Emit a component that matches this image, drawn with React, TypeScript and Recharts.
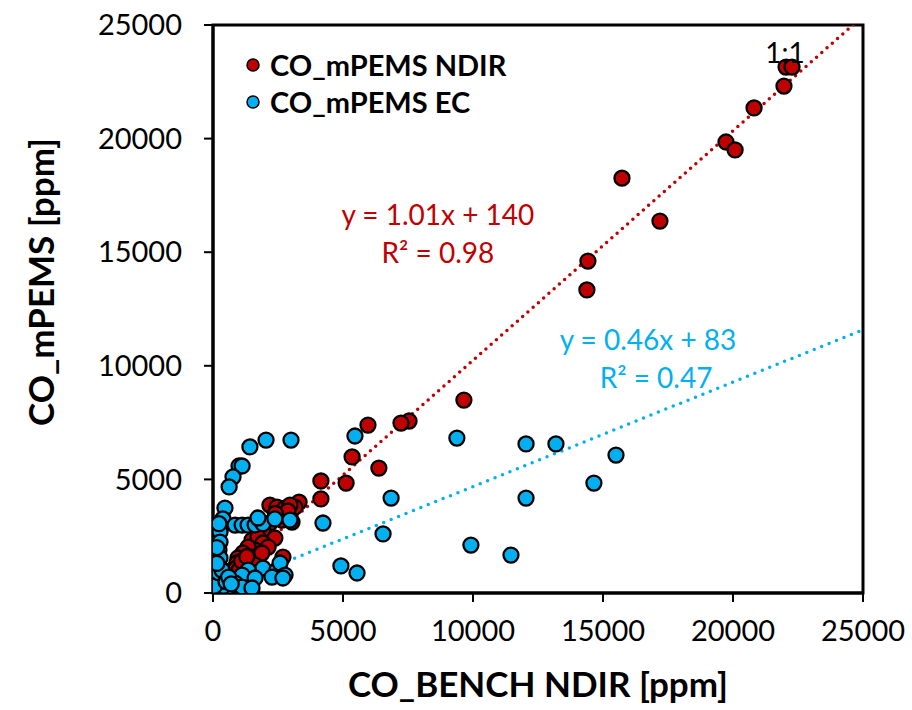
import {
	ScatterChart,
	Scatter,
	XAxis,
	YAxis,
	ReferenceLine,
	ReferenceArea,
	ReferenceDot,
	Legend
} from 'recharts'

// CO_mPEMS NDIR vs bench (ppm)
const ndirPoints = [
	{ x: 22040, y: 23150 }, { x: 22270, y: 23150 }, { x: 21960, y: 22310 }, { x: 20810, y: 21350 },
	{ x: 19730, y: 19850 }, { x: 20080, y: 19500 }, { x: 15730, y: 18260 }, { x: 17190, y: 16370 },
	{ x: 14420, y: 14610 }, { x: 14380, y: 13340 }, { x: 9650, y: 8490 }, { x: 7540, y: 7570 },
	{ x: 7230, y: 7480 }, { x: 5960, y: 7390 }, { x: 5350, y: 5990 }, { x: 6380, y: 5500 },
	{ x: 4150, y: 4930 }, { x: 5120, y: 4840 }, { x: 4150, y: 4140 }, { x: 3310, y: 4000 },
	{ x: 2190, y: 3870 }, { x: 2460, y: 3780 }, { x: 2770, y: 3740 }, { x: 3150, y: 3780 },
	{ x: 2960, y: 3870 }, { x: 3040, y: 3120 }, { x: 2650, y: 3210 }, { x: 2880, y: 3610 },
	{ x: 2190, y: 3080 }, { x: 40, y: 2900 }, { x: 1920, y: 2770 }, { x: 2380, y: 2420 },
	{ x: 1500, y: 2330 }, { x: 1730, y: 2460 }, { x: 1920, y: 2200 }, { x: 2120, y: 2020 },
	{ x: 1620, y: 1890 }, { x: 1350, y: 2020 }, { x: 1150, y: 1760 }, { x: 960, y: 1540 },
	{ x: 1500, y: 1580 }, { x: 1880, y: 1760 }, { x: 1230, y: 1230 }, { x: 920, y: 1320 },
	{ x: 1620, y: 1230 }, { x: 2690, y: 1580 }, { x: 730, y: 1010 }, { x: 460, y: 700 },
	{ x: 270, y: 480 }, { x: 120, y: 260 }, { x: 80, y: 130 }, { x: 200, y: 200 },
	{ x: 300, y: 350 }, { x: 400, y: 500 }, { x: 550, y: 600 }, { x: 650, y: 850 },
	{ x: 800, y: 900 }, { x: 500, y: 300 }, { x: 900, y: 1100 }, { x: 1000, y: 1000 },
	{ x: 1100, y: 1400 }, { x: 1300, y: 1600 }, { x: 2400, y: 3500 }
]

// CO_mPEMS EC vs bench (ppm)
const ecPoints = [
	{ x: 5460, y: 6910 }, { x: 9380, y: 6820 }, { x: 12040, y: 6560 }, { x: 13190, y: 6560 },
	{ x: 15500, y: 6070 }, { x: 14650, y: 4840 }, { x: 12040, y: 4180 }, { x: 9920, y: 2110 },
	{ x: 11460, y: 1670 }, { x: 6850, y: 4180 }, { x: 6540, y: 2600 }, { x: 4920, y: 1190 },
	{ x: 5540, y: 880 }, { x: 4230, y: 3080 }, { x: 1420, y: 6430 }, { x: 2040, y: 6730 },
	{ x: 3000, y: 6730 }, { x: 1000, y: 5590 }, { x: 1120, y: 5590 }, { x: 770, y: 5110 },
	{ x: 620, y: 4670 }, { x: 460, y: 3740 }, { x: 380, y: 3260 }, { x: 310, y: 2900 },
	{ x: 850, y: 2990 }, { x: 1120, y: 2990 }, { x: 1350, y: 2990 }, { x: 1620, y: 3000 },
	{ x: 1920, y: 3050 }, { x: 1730, y: 3300 }, { x: 2380, y: 3260 }, { x: 2960, y: 3210 },
	{ x: 270, y: 2680 }, { x: 270, y: 2240 }, { x: 230, y: 1890 }, { x: 270, y: 1540 },
	{ x: 230, y: 1140 }, { x: 270, y: 880 }, { x: 200, y: 570 }, { x: 270, y: 350 },
	{ x: 1920, y: 1100 }, { x: 2460, y: 1010 }, { x: 2580, y: 1320 }, { x: 2770, y: 790 },
	{ x: 2270, y: 700 }, { x: 1350, y: 1010 }, { x: 1120, y: 790 }, { x: 1620, y: 660 },
	{ x: 850, y: 440 }, { x: 580, y: 260 }, { x: 190, y: 220 }, { x: 80, y: 130 },
	{ x: 1120, y: 260 }, { x: 1500, y: 220 }, { x: 2690, y: 660 }, { x: 100, y: 500 },
	{ x: 150, y: 800 }, { x: 300, y: 600 }, { x: 400, y: 300 }, { x: 50, y: 300 },
	{ x: 200, y: 900 }, { x: 350, y: 1000 }, { x: 500, y: 500 }, { x: 600, y: 700 },
	{ x: 700, y: 400 }, { x: 150, y: 2000 }, { x: 150, y: 1300 }, { x: 230, y: 3050 }
]

const seriesNames = ['CO_mPEMS NDIR', 'CO_mPEMS EC']
const axisTicks = [0, 5000, 10000, 15000, 20000, 25000]

// linear trend lines from the source chart
const ndirFit = { slope: 1.01, intercept: 140 }
const ecFit = { slope: 0.46, intercept: 83 }

const RED = '#C00000'
const BLUE = '#00B0F0'
const FONT = 'Lato, "Open Sans", sans-serif'

const dotShape = (fill: string) => (p: any) => (
	<circle cx={p.cx} cy={p.cy} r={7.5} fill={fill} stroke="#000" strokeWidth={2.3} />
)

const renderLegend = ({ payload }: any) => {
	const items = [...(payload || [])].sort(
		(a: any, b: any) => seriesNames.indexOf(a.value) - seriesNames.indexOf(b.value)
	)
	return (
		<div style={{ fontFamily: FONT }}>
			{items.map((entry: any) => (
				<div key={entry.value} style={{ display: 'flex', alignItems: 'center', height: 37 }}>
					<svg width={16} height={16} style={{ marginRight: 9 }}>
						<circle cx={8} cy={8} r={6} fill={entry.color} stroke="#000" strokeWidth={1.5} />
					</svg>
					<span style={{ fontSize: 29, fontWeight: 700, color: '#000' }}>{entry.value}</span>
				</div>
			))}
		</div>
	)
}

const xTitle = (props: any) => {
	const vb = props.viewBox || { x: 213, y: 593, width: 650 }
	return (
		<text x={vb.x + vb.width / 2} y={vb.y + 104} textAnchor="middle" fontSize={35} fontWeight={700} fill="#000" fontFamily={FONT}>
			CO_BENCH NDIR [ppm]
		</text>
	)
}

const yTitle = (props: any) => {
	const vb = props.viewBox || { x: 20, y: 25, width: 193, height: 568 }
	const cx = vb.x + 20
	const cy = vb.y + vb.height / 2 - 27
	return (
		<text x={cx} y={cy} transform={`rotate(-90, ${cx}, ${cy})`} textAnchor="middle" dominantBaseline="central" fontSize={35} fontWeight={700} fill="#000" fontFamily={FONT}>
			CO_mPEMS [ppm]
		</text>
	)
}

const noteLabel = (value: string, fill: string) => ({
	value,
	position: 'center' as const,
	fill,
	fontSize: 28,
	fontFamily: FONT
})

export default function App() {
	return (
		<div style={{ position: 'absolute', left: 0, top: 0, width: 912, height: 710, background: '#fff' }}>
			<ScatterChart width={912} height={710} margin={{ top: 25, right: 49, bottom: 7, left: 20 }} style={{ fontFamily: FONT }}>
				<XAxis
					type="number"
					dataKey="x"
					domain={[0, 25000]}
					ticks={axisTicks}
					interval={0}
					allowDataOverflow
					height={110}
					tickSize={9}
					tickMargin={18}
					axisLine={{ stroke: '#000', strokeWidth: 3 }}
					tickLine={{ stroke: '#000', strokeWidth: 2 }}
					tick={{ fontSize: 29, fill: '#000', fontFamily: FONT }}
					label={{ content: xTitle }}
				/>
				<YAxis
					type="number"
					dataKey="y"
					domain={[0, 25000]}
					ticks={axisTicks}
					interval={0}
					allowDataOverflow
					width={193}
					tickSize={9}
					tickMargin={22}
					axisLine={{ stroke: '#000', strokeWidth: 3 }}
					tickLine={{ stroke: '#000', strokeWidth: 2 }}
					tick={{ fontSize: 29, fill: '#000', fontFamily: FONT }}
					label={{ content: yTitle }}
				/>
				<ReferenceArea x1={0} x2={25000} y1={0} y2={25000} fill="none" stroke="#000" strokeWidth={3} />
				<Scatter name={seriesNames[0]} data={ndirPoints} fill={RED} shape={dotShape(RED)} isAnimationActive={false} />
				<Scatter name={seriesNames[1]} data={ecPoints} fill={BLUE} shape={dotShape(BLUE)} isAnimationActive={false} />
				<ReferenceLine
					segment={[
						{ x: 0, y: ndirFit.intercept },
						{ x: 25000, y: ndirFit.slope * 25000 + ndirFit.intercept }
					]}
					stroke={RED}
					strokeWidth={3.5}
					strokeDasharray="0 7"
					strokeLinecap="round"
					ifOverflow="hidden"
				/>
				<ReferenceLine
					segment={[
						{ x: 0, y: ecFit.intercept },
						{ x: 25000, y: ecFit.slope * 25000 + ecFit.intercept }
					]}
					stroke={BLUE}
					strokeWidth={3.5}
					strokeDasharray="0 8"
					strokeLinecap="round"
					ifOverflow="hidden"
				/>
				<ReferenceDot x={8650} y={16640} r={0} fill="none" stroke="none" label={noteLabel('y = 1.01x + 140', RED)} />
				<ReferenceDot x={8650} y={14960} r={0} fill="none" stroke="none" label={noteLabel('R² = 0.98', RED)} />
				<ReferenceDot x={16730} y={11130} r={0} fill="none" stroke="none" label={noteLabel('y = 0.46x + 83', BLUE)} />
				<ReferenceDot x={17040} y={9460} r={0} fill="none" stroke="none" label={noteLabel('R² = 0.47', BLUE)} />
				<ReferenceDot x={22000} y={23770} r={0} fill="none" stroke="none" label={noteLabel('1:1', '#000')} />
				<Legend
					layout="vertical"
					verticalAlign="middle"
					align="center"
					content={renderLegend}
					wrapperStyle={{ left: 245, top: 46, width: 340 }}
				/>
			</ScatterChart>
		</div>
	)
}
